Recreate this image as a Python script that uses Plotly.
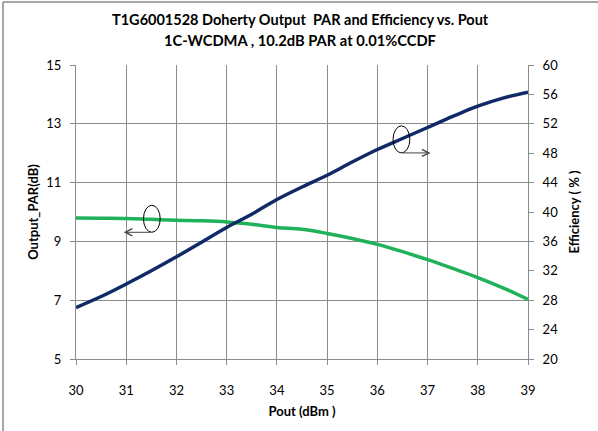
import plotly.graph_objects as go

# Pout (dBm)
pout = [30, 30.5, 31, 31.5, 32, 32.5, 33, 33.5, 34, 34.5, 35, 35.5, 36, 36.5, 37, 37.5, 38, 38.5, 39]
# Output PAR (dB), left axis
par_db = [9.8, 9.79, 9.78, 9.75, 9.72, 9.7, 9.66, 9.58, 9.47, 9.41, 9.27, 9.1, 8.9, 8.65, 8.38, 8.08, 7.77, 7.42, 7.03]
# Efficiency (%), right axis
eff_pct = [27.0, 28.5, 30.2, 32.0, 33.9, 35.9, 37.9, 39.7, 41.7, 43.4, 45.0, 46.8, 48.5, 50.0, 51.5, 53.0, 54.4, 55.5, 56.3]

x_ticks = list(range(30, 40))
par_ticks = [5, 7, 9, 11, 13, 15]
eff_ticks = list(range(20, 61, 4))

title_1 = "T1G6001528 Doherty Output  PAR and Efficiency vs. Pout"
title_2 = "1C-WCDMA , 10.2dB PAR at 0.01%CCDF"

# ellipse markers (x centre, left-axis y centre) and arrow end x
left_marker = (31.51, 9.77)
left_arrow_to = 30.95
right_marker = (36.48, 12.47)
right_arrow_to = 37.06

font = "Lato"
grid = "#8c8c8c"
W, H = 452, 294  # plot area size in px

fig = go.Figure()
fig.add_trace(go.Scatter(x=pout, y=par_db, mode="lines", line=dict(color="#1fb25a", width=3.5, shape="spline"),
                         name="PAR", yaxis="y"))
fig.add_trace(go.Scatter(x=pout, y=eff_pct, mode="lines", line=dict(color="#0f2a66", width=3.5, shape="spline"),
                         name="Efficiency", yaxis="y2"))

# ellipses
rx, ry = 0.167, 0.46
for cx, cy in (left_marker, right_marker):
    fig.add_shape(type="circle", xref="x", yref="y", x0=cx - rx, x1=cx + rx, y0=cy - ry, y1=cy + ry,
                  line=dict(color="black", width=1))
# arrows
for (cx, cy), to in ((left_marker, left_arrow_to), (right_marker, right_arrow_to)):
    fig.add_annotation(x=to, y=cy - ry, ax=cx, ay=cy - ry,
                       xref="x", yref="y", axref="x", ayref="y", text="", showarrow=True,
                       arrowhead=5, arrowsize=1.4, arrowwidth=1, arrowcolor="#444444")

# outer border (left and top edges)
bx, by0, by1 = -73 / W, -72 / H, 1 + 63 / H
fig.add_shape(type="line", xref="paper", yref="paper", x0=bx, x1=bx, y0=by0, y1=by1,
              line=dict(color="#888888", width=1.5))
fig.add_shape(type="line", xref="paper", yref="paper", x0=bx, x1=1 + 70 / W, y0=by1, y1=by1,
              line=dict(color="#888888", width=1.5))

# two-line title
for txt, ypx, fs in ((title_1, 19, 14.5), (title_2, 40, 14.7)):
    fig.add_annotation(text="<b>" + txt + "</b>", xref="paper", yref="paper",
                       x=(300 - 76) / W, y=1 + (65 - ypx) / H, xanchor="center", yanchor="middle",
                       showarrow=False, font=dict(family=font, size=fs, color="black"))

fig.update_layout(
    width=598, height=431,
    margin=dict(l=76, r=70, t=65, b=72, autoexpand=False),
    paper_bgcolor="white", plot_bgcolor="white",
    showlegend=False,
    font=dict(family=font, size=13, color="black"),
    xaxis=dict(range=[30, 39], tickvals=x_ticks, showgrid=True, gridcolor=grid, gridwidth=1,
               showline=True, linecolor=grid, ticks="outside", ticklen=5, tickcolor=grid,
               ticklabelstandoff=14, zeroline=False, automargin=False,
               title=dict(text="<b>Pout (dBm )</b>", standoff=10, font=dict(size=13))),
    yaxis=dict(range=[5, 15], tickvals=par_ticks, showgrid=True, gridcolor=grid, gridwidth=1,
               showline=True, linecolor=grid, ticks="outside", ticklen=5, tickcolor=grid,
               ticklabelstandoff=6, zeroline=False, automargin=False,
               title=dict(text="<b>Output_PAR(dB)</b>", standoff=4, font=dict(size=13))),
    yaxis2=dict(range=[20, 60], tickvals=eff_ticks, overlaying="y", side="right", showgrid=False,
                showline=True, linecolor=grid, ticks="outside", ticklen=5, tickcolor=grid,
                ticklabelstandoff=6, zeroline=False, automargin=False,
                title=dict(text="<b>Efficiency ( % )</b>", standoff=12, font=dict(size=13))),
)

fig.write_html("out.html", config={"displayModeBar": False},
               post_script="document.body.style.margin='0';")
